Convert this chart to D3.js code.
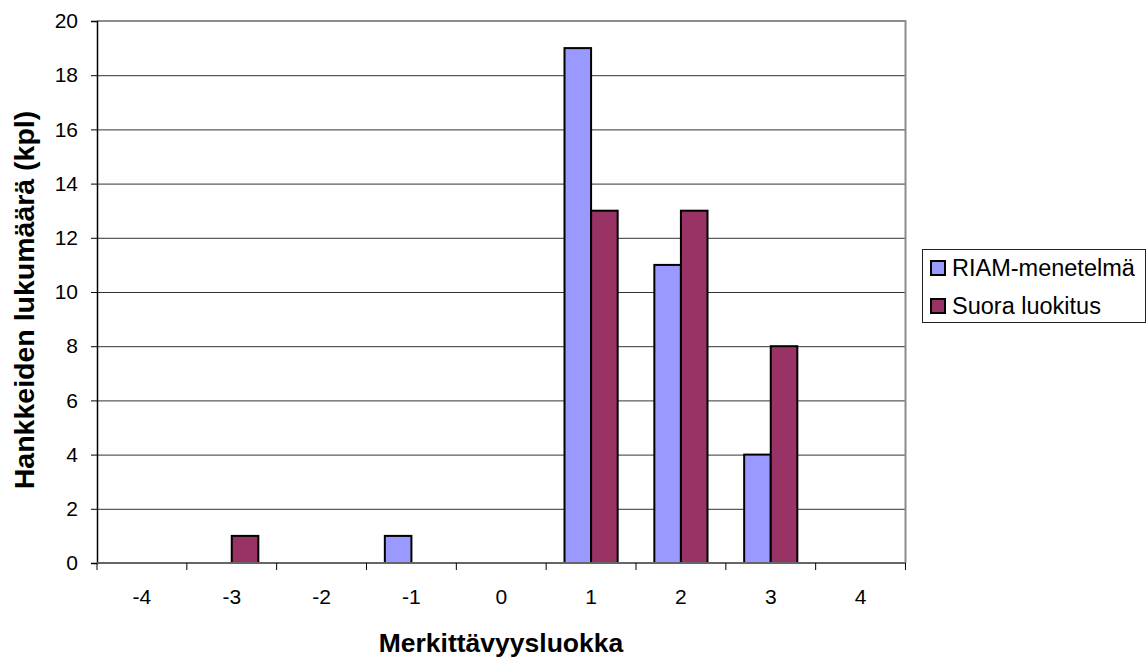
<!DOCTYPE html>
<html>
<head>
<meta charset="utf-8">
<script src="https://cdn.jsdelivr.net/npm/d3@7"></script>
<style>
  html, body { margin: 0; padding: 0; background: #fff; }
  svg { display: block; font-family: "Liberation Sans", Arial, sans-serif; }
</style>
</head>
<body>
<svg id="chart" width="1147" height="658"></svg>
<script>
// Significance classes on the x axis
const categories = ["-4", "-3", "-2", "-1", "0", "1", "2", "3", "4"];
// Number of projects per class, by classification method
const riamValues  = [0, 0, 0, 1, 0, 19, 11, 4, 0];
const suoraValues = [0, 1, 0, 0, 0, 13, 13, 8, 0];
const seriesNames = ["RIAM-menetelmä", "Suora luokitus"];
const seriesColors = ["#9999FF", "#993366"];
const yTicks = [0, 2, 4, 6, 8, 10, 12, 14, 16, 18, 20];

const svg = d3.select("#chart");
const plot = { left: 97, right: 905.5, top: 21, bottom: 563 };

const x0 = d3.scaleBand().domain(categories).range([plot.left, plot.right]).paddingInner(0).paddingOuter(0);
const x1 = d3.scaleBand().domain(seriesNames).range([0, x0.bandwidth()]).paddingInner(0).paddingOuter(0.69);
const y = d3.scaleLinear().domain([0, 20]).range([plot.bottom, plot.top]);

// Horizontal gridlines
svg.append("g")
  .selectAll("line")
  .data(yTicks.filter(t => t > 0 && t < 20))
  .join("line")
  .attr("x1", plot.left).attr("x2", plot.right)
  .attr("y1", d => y(d) + 0.5).attr("y2", d => y(d) + 0.5)
  .attr("stroke", "#333").attr("stroke-width", 1);

// Plot area frame (top and right)
svg.append("path")
  .attr("d", `M${plot.left},${y(20)}H${plot.right}V${plot.bottom}`)
  .attr("fill", "none").attr("stroke", "#8c8c8c").attr("stroke-width", 2);

// Bars
const seriesData = [riamValues, suoraValues];
const groups = svg.append("g")
  .selectAll("g")
  .data(categories)
  .join("g")
  .attr("transform", d => `translate(${x0(d)},0)`);

groups.selectAll("rect")
  .data((c, i) => seriesNames.map((s, j) => ({ series: s, value: seriesData[j][i], color: seriesColors[j] }))
    .filter(d => d.value > 0))
  .join("rect")
  .attr("x", d => x1(d.series))
  .attr("width", x1.bandwidth())
  .attr("y", d => y(d.value))
  .attr("height", d => y(0) - y(d.value))
  .attr("fill", d => d.color)
  .attr("stroke", "#000")
  .attr("stroke-width", 2);

// Y axis
const yAxis = d3.axisLeft(y).tickValues(yTicks).tickSize(6).tickPadding(13);
const gy = svg.append("g").attr("transform", `translate(${plot.left},0)`).call(yAxis);
gy.select(".domain").attr("stroke", "#000").attr("stroke-width", 1.5);
gy.selectAll(".tick line").attr("stroke", "#000");
gy.selectAll(".tick text").attr("font-size", 21).attr("fill", "#000")
  .attr("font-family", "Liberation Sans, Arial, sans-serif");

// X axis: baseline with ticks on the category boundaries
svg.append("line")
  .attr("x1", plot.left).attr("x2", plot.right)
  .attr("y1", plot.bottom).attr("y2", plot.bottom)
  .attr("stroke", "#666").attr("stroke-width", 2);

const boundaries = categories.map(c => x0(c)).concat([x0(categories[categories.length - 1]) + x0.bandwidth()]);
svg.append("g")
  .selectAll("line")
  .data(boundaries)
  .join("line")
  .attr("x1", d => d).attr("x2", d => d)
  .attr("y1", plot.bottom).attr("y2", plot.bottom + 7)
  .attr("stroke", "#000").attr("stroke-width", 1);

svg.append("g")
  .selectAll("text")
  .data(categories)
  .join("text")
  .attr("x", d => x0(d) + x0.bandwidth() / 2)
  .attr("y", 597)
  .attr("dy", "0.35em")
  .attr("text-anchor", "middle")
  .attr("font-size", 21)
  .text(d => d);

// Axis titles
svg.append("text")
  .attr("x", 501).attr("y", 652)
  .attr("text-anchor", "middle")
  .attr("font-size", 26.5).attr("font-weight", "bold")
  .text("Merkittävyysluokka");

svg.append("text")
  .attr("transform", "translate(34,300) rotate(-90)")
  .attr("text-anchor", "middle")
  .attr("font-size", 28.5).attr("font-weight", "bold")
  .text("Hankkeiden lukumäärä (kpl)");

// Legend
const legend = svg.append("g");
legend.append("rect")
  .attr("x", 922.5).attr("y", 249.5).attr("width", 223).attr("height", 73)
  .attr("fill", "#fff").attr("stroke", "#222").attr("stroke-width", 1);

const items = legend.selectAll("g.item")
  .data(seriesNames)
  .join("g")
  .attr("class", "item")
  .attr("transform", (d, i) => `translate(931,${268 + i * 38})`);

items.append("rect")
  .attr("x", 0).attr("y", -7).attr("width", 14).attr("height", 14)
  .attr("fill", (d, i) => seriesColors[i])
  .attr("stroke", "#000").attr("stroke-width", 2);

items.append("text")
  .attr("x", 21).attr("y", 0).attr("dy", "0.35em")
  .attr("font-size", 23.5)
  .text(d => d);
</script>
</body>
</html>
